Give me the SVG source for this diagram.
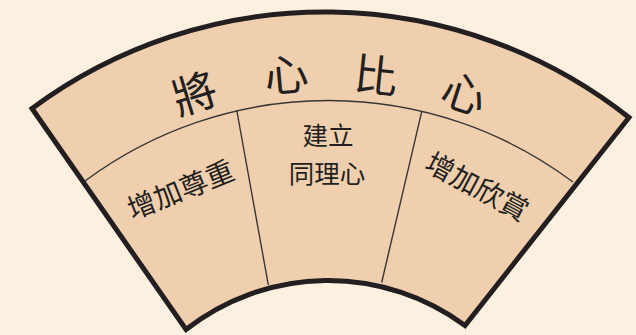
<svg xmlns="http://www.w3.org/2000/svg" width="636" height="335" viewBox="0 0 636 335">
<style>
.bg{fill:#fcf0e0}
.fan{fill:#efcfae;stroke:#231f20;stroke-width:5;stroke-linejoin:miter}
.thin{fill:none;stroke:#3a3636;stroke-width:1.4}
.t{font-family:"Noto Sans CJK TC","Noto Sans CJK SC",sans-serif;fill:#231f20;text-anchor:middle;dominant-baseline:central}
.title{font-size:44px}
.lab{font-size:28px}
.mid{font-size:25.5px}
</style>
<rect class="bg" x="0" y="0" width="636" height="335"/>
<g id="fan">
<path class="fan" d="M32,108.5 A491.6,491.6 0 0 1 629,117.5 L465,325.5 A230.5,230.5 0 0 0 186,329.5 Z"/>
</g>
<g id="connectors">
<path class="thin" d="M85,181 A408,408 0 0 1 573,182"/>
<path class="thin" d="M236.7,110 L268.3,285"/>
<path class="thin" d="M421.7,111.7 L381.7,282.5"/>
</g>
<g id="title">
<text class="t title" transform="translate(194,91) rotate(-17)">將</text>
<text class="t title" transform="translate(286,72) rotate(-5)">心</text>
<text class="t title" transform="translate(376,73) rotate(6)">比</text>
<text class="t title" transform="translate(465,91) rotate(18)">心</text>
</g>
<g id="left">
<text class="t lab" transform="translate(180,188) rotate(-22)">增加尊重</text>
</g>
<g id="middle">
<text class="t mid" x="328" y="133">建立</text>
<text class="t mid" x="327" y="171">同理心</text>
</g>
<g id="right">
<text class="t lab" transform="translate(478,185) rotate(28)">增加欣賞</text>
</g>
</svg>
